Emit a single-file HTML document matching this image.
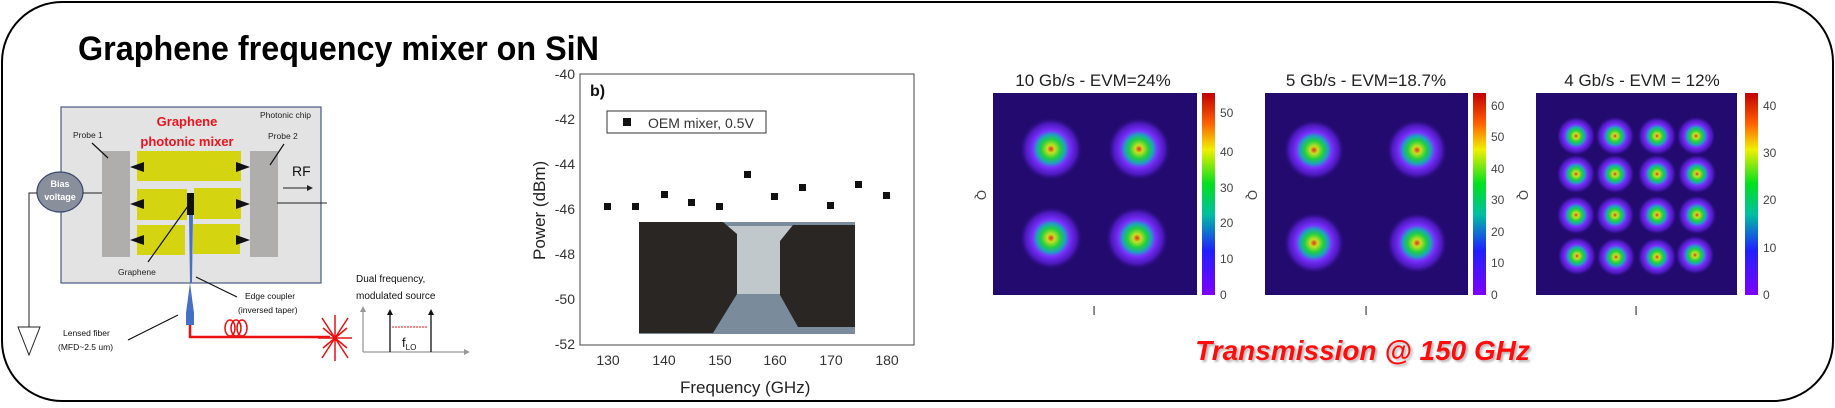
<!DOCTYPE html>
<html><head><meta charset="utf-8"><style>
body{margin:0;width:1835px;height:403px;background:#fff;overflow:hidden;font-family:"Liberation Sans",sans-serif}
</style></head><body>
<svg width="1835" height="403" xmlns="http://www.w3.org/2000/svg" font-family="Liberation Sans, sans-serif">
<defs>
<radialGradient id="b"><stop offset="0" stop-color="#e03020"/><stop offset="0.12" stop-color="#c8e020"/><stop offset="0.3" stop-color="#20d040"/><stop offset="0.45" stop-color="#20a0c0"/><stop offset="0.58" stop-color="#7a30ff"/><stop offset="0.8" stop-color="#6020e0" stop-opacity="0.7"/><stop offset="1" stop-color="#220a6e" stop-opacity="0"/></radialGradient>
<linearGradient id="cb" x1="0" y1="1" x2="0" y2="0"><stop offset="0" stop-color="#8000ff"/><stop offset="0.22" stop-color="#2020ff"/><stop offset="0.4" stop-color="#00c0a0"/><stop offset="0.55" stop-color="#00e020"/><stop offset="0.72" stop-color="#f0f000"/><stop offset="0.85" stop-color="#ff6000"/><stop offset="1" stop-color="#c00000"/></linearGradient>
<clipPath id="c1"><rect x="993" y="93" width="204" height="202"/></clipPath>
<clipPath id="c2"><rect x="1265" y="93" width="203" height="202"/></clipPath>
<clipPath id="c3"><rect x="1536" y="93" width="201" height="202"/></clipPath>
<filter id="sh"><feDropShadow dx="2" dy="2" stdDeviation="1" flood-color="#888" flood-opacity="0.6"/></filter>
</defs>
<rect x="2" y="2" width="1831" height="399" rx="60" fill="#fff" stroke="#000" stroke-width="2"/>
<text x="78" y="60" font-size="34" font-weight="bold" fill="#000" textLength="521" lengthAdjust="spacingAndGlyphs">Graphene frequency mixer on SiN</text>
<!-- chip diagram -->
<rect x="61" y="107" width="260" height="176" fill="#e3e3e3" stroke="#4a5a80" stroke-width="1.2"/>
<text x="260" y="118" font-size="8.5" fill="#222">Photonic chip</text>
<text x="187" y="126" font-size="13" font-weight="bold" fill="#e8141e" text-anchor="middle">Graphene</text>
<text x="187" y="146" font-size="13" font-weight="bold" fill="#e8141e" text-anchor="middle">photonic mixer</text>
<text x="73" y="138" font-size="8.5" fill="#222">Probe 1</text>
<text x="268" y="139" font-size="8.5" fill="#222">Probe 2</text>
<rect x="102" y="151" width="28" height="106" fill="#b0adad"/>
<rect x="250" y="151" width="28" height="106" fill="#b0adad"/>
<rect x="137" y="151" width="104" height="30" fill="#d4d410"/>
<rect x="137" y="189" width="50" height="31" fill="#d4d410"/>
<rect x="194" y="188" width="47" height="31" fill="#d4d410"/>
<rect x="137" y="225" width="48" height="30" fill="#d4d410"/>
<rect x="193" y="224" width="47" height="30" fill="#d4d410"/>
<path d="M130,167l14,-5v10z M130,204l14,-5v10z M130,240l14,-5v10z M250,167l-14,-5v10z M250,204l-14,-5v10z M250,240l-14,-5v10z" fill="#111"/>
<rect x="187" y="193" width="7" height="22" fill="#111"/>
<path d="M189,215h4l-1,68h-2z M190,283l-4,30v12h8v-12z" fill="#4470c8"/>
<text x="118" y="275" font-size="8.5" fill="#222">Graphene</text>
<path d="M148,262L188,206 M92,143L108,158 M284,144L270,165 M237,297L196,277 M128,340L178,315" stroke="#111" stroke-width="1.2"/>
<text x="245" y="299" font-size="8.5" fill="#111">Edge coupler</text>
<text x="238" y="313" font-size="8.5" fill="#111">(inversed taper)</text>
<text x="63" y="336" font-size="8.5" fill="#111">Lensed fiber</text>
<text x="58" y="350" font-size="8.5" fill="#111">(MFD~2.5 um)</text>
<text x="292" y="176" font-size="14" fill="#111">RF</text>
<path d="M283,188h28" stroke="#222"/><path d="M313,188l-6,-3v6z" fill="#222"/>
<path d="M277,203h50" stroke="#222"/>
<ellipse cx="60" cy="192" rx="23" ry="20" fill="#8a8f9c" stroke="#3a4a70" stroke-width="1.2"/>
<text x="60" y="187" font-size="9" font-weight="bold" fill="#fff" text-anchor="middle">Bias</text>
<text x="60" y="200" font-size="9" font-weight="bold" fill="#fff" text-anchor="middle">voltage</text>
<path d="M83,193h19 M37,193h-8v134" stroke="#222" fill="none"/>
<path d="M18,327h22l-11,28z" fill="none" stroke="#222"/>
<path d="M190,325v12h140" stroke="#e81010" stroke-width="2.5" fill="none"/>
<g fill="none" stroke="#e81010" stroke-width="1.5"><ellipse cx="230" cy="328" rx="5" ry="8"/><ellipse cx="236" cy="328" rx="5" ry="8"/><ellipse cx="242" cy="328" rx="5" ry="8"/></g>
<g stroke="#e81010" stroke-width="1.5"><path d="M322,318L348,358M348,318L322,358M335,315V361M318,338H352M323,328L347,348M347,328L323,348"/></g>
<text x="356" y="282" font-size="10" fill="#111">Dual frequency,</text>
<text x="356" y="299" font-size="10" fill="#111">modulated source</text>
<path d="M363,352V308 M363,352H466" stroke="#999" stroke-width="1.3"/>
<path d="M363,306l-3,6h6z M470,352l-6,-3v6z" fill="#999"/>
<path d="M390,352V313 M431,352V313" stroke="#111" stroke-width="1.3"/>
<path d="M390,309l-3,6h6z M431,309l-3,6h6z" fill="#111"/>
<path d="M392,327h36" stroke="#e81010" stroke-dasharray="2,1"/>
<text x="402" y="347" font-size="13" fill="#111">f<tspan font-size="8" dy="3">LO</tspan></text>
<!-- chart -->
<rect x="580" y="74" width="334" height="271" fill="none" stroke="#444"/>
<g font-size="14" fill="#333" text-anchor="end">
<text x="575" y="79">-40</text><text x="575" y="124">-42</text><text x="575" y="169">-44</text><text x="575" y="214">-46</text><text x="575" y="259">-48</text><text x="575" y="304">-50</text><text x="575" y="349">-52</text></g>
<g font-size="14" fill="#333" text-anchor="middle">
<text x="608" y="365">130</text><text x="664" y="365">140</text><text x="720" y="365">150</text><text x="775" y="365">160</text><text x="831" y="365">170</text><text x="887" y="365">180</text></g>
<text x="680" y="393" font-size="17" fill="#222">Frequency (GHz)</text>
<text transform="translate(545,260) rotate(-90)" font-size="17" fill="#222">Power (dBm)</text>
<text x="590" y="96" font-size="16" font-weight="bold" fill="#111">b)</text>
<rect x="607" y="111" width="159" height="22" fill="#fff" stroke="#333"/>
<rect x="623" y="118" width="8" height="8" fill="#111"/>
<text x="648" y="128" font-size="14" fill="#333">OEM mixer, 0.5V</text>
<g fill="#111">
<rect x="604" y="203" width="7" height="7"/><rect x="632" y="203" width="7" height="7"/><rect x="661" y="191" width="7" height="7"/><rect x="688" y="199" width="7" height="7"/><rect x="716" y="203" width="7" height="7"/><rect x="744" y="171" width="7" height="7"/><rect x="771" y="193" width="7" height="7"/><rect x="799" y="184" width="7" height="7"/><rect x="827" y="202" width="7" height="7"/><rect x="855" y="181" width="7" height="7"/><rect x="883" y="192" width="7" height="7"/></g>
<rect x="639" y="222" width="216" height="112" fill="#7a8c9c"/>
<rect x="716" y="226" width="82" height="68" fill="#c0c8cc"/>
<path d="M639,222h84l14,12v60l-24,39h-74z" fill="#2a2624"/>
<path d="M855,225h-62l-13,16v54l18,32h57z" fill="#2a2624"/>
<!-- constellations -->
<g font-size="17" fill="#222" text-anchor="middle">
<text x="1093" y="86">10 Gb/s - EVM=24%</text><text x="1366" y="86">5 Gb/s - EVM=18.7%</text><text x="1642" y="86">4 Gb/s - EVM = 12%</text></g>
<rect x="993" y="93" width="204" height="202" fill="#220a6e"/>
<g clip-path="url(#c1)">
<circle cx="1051" cy="149" r="32" fill="url(#b)"/><circle cx="1139" cy="149" r="32" fill="url(#b)"/>
<circle cx="1051" cy="238" r="32" fill="url(#b)"/><circle cx="1137" cy="238" r="32" fill="url(#b)"/></g>
<rect x="1265" y="93" width="203" height="202" fill="#220a6e"/>
<g clip-path="url(#c2)">
<circle cx="1314" cy="150" r="31" fill="url(#b)"/><circle cx="1417" cy="150" r="31" fill="url(#b)"/>
<circle cx="1314" cy="243" r="31" fill="url(#b)"/><circle cx="1417" cy="243" r="31" fill="url(#b)"/></g>
<rect x="1536" y="93" width="201" height="202" fill="#220a6e"/>
<g clip-path="url(#c3)">
<circle cx="1576" cy="136" r="20" fill="url(#b)"/><circle cx="1615" cy="136" r="20" fill="url(#b)"/><circle cx="1657" cy="136" r="20" fill="url(#b)"/><circle cx="1696" cy="136" r="20" fill="url(#b)"/>
<circle cx="1576" cy="174" r="20" fill="url(#b)"/><circle cx="1615" cy="174" r="20" fill="url(#b)"/><circle cx="1657" cy="174" r="20" fill="url(#b)"/><circle cx="1697" cy="174" r="20" fill="url(#b)"/>
<circle cx="1576" cy="215" r="20" fill="url(#b)"/><circle cx="1615" cy="215" r="20" fill="url(#b)"/><circle cx="1657" cy="215" r="20" fill="url(#b)"/><circle cx="1697" cy="215" r="20" fill="url(#b)"/>
<circle cx="1577" cy="256" r="20" fill="url(#b)"/><circle cx="1616" cy="257" r="20" fill="url(#b)"/><circle cx="1657" cy="257" r="20" fill="url(#b)"/><circle cx="1695" cy="255" r="20" fill="url(#b)"/></g>
<rect x="1202" y="93" width="13" height="202" fill="url(#cb)"/>
<rect x="1473" y="93" width="13" height="202" fill="url(#cb)"/>
<rect x="1745" y="93" width="13" height="202" fill="url(#cb)"/>
<g font-size="12" fill="#444">
<text x="1220" y="117">50</text><text x="1220" y="156">40</text><text x="1220" y="192">30</text><text x="1220" y="227">20</text><text x="1220" y="263">10</text><text x="1220" y="299">0</text>
<text x="1491" y="110">60</text><text x="1491" y="141">50</text><text x="1491" y="173">40</text><text x="1491" y="204">30</text><text x="1491" y="236">20</text><text x="1491" y="267">10</text><text x="1491" y="299">0</text>
<text x="1763" y="110">40</text><text x="1763" y="157">30</text><text x="1763" y="204">20</text><text x="1763" y="252">10</text><text x="1763" y="299">0</text></g>
<g font-size="13" fill="#444" text-anchor="middle">
<text x="977" y="195" transform="rotate(90 977 195)">Q</text><text x="1248" y="195" transform="rotate(90 1248 195)">Q</text><text x="1519" y="195" transform="rotate(90 1519 195)">Q</text>
<text x="1094" y="315">I</text><text x="1366" y="315">I</text><text x="1636" y="315">I</text></g>
<text x="1530" y="360" font-size="28" font-weight="bold" font-style="italic" fill="#ff1010" text-anchor="end" filter="url(#sh)">Transmission @ 150 GHz</text>
</svg>
</body></html>
